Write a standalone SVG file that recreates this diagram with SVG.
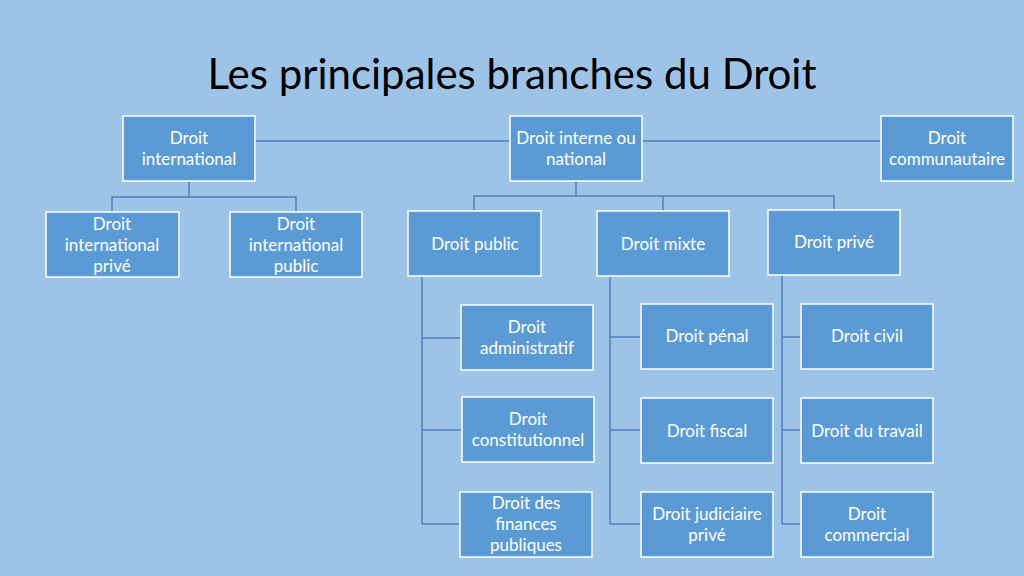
<svg xmlns="http://www.w3.org/2000/svg" width="1024" height="576" viewBox="0 0 1024 576">
<style>
.b{fill:#5b9bd5;stroke:#ffffff;stroke-width:1.5}
.t{font-family:Lato,"Open Sans",sans-serif;font-size:17px;fill:#ffffff;text-anchor:middle}
.c{fill:none;stroke:#4f81bd;stroke-width:1.5}
</style>
<rect width="1024" height="576" fill="#9dc3e6"/>
<text x="512" y="89" font-family="Lato,'Open Sans',sans-serif" font-size="42" text-anchor="middle" fill="#000">Les principales branches du Droit</text>
<g id="connectors" class="c">
<path d="M255 141H510M642 141H881"/>
<path d="M189 181V197M112 212V197H296V212"/>
<path d="M576 181V196M474 211V196H834V210M663 196V211"/>
<path d="M422 276V524M422 338H461M422 430H461M422 524H461"/>
<path d="M610 276V524M610 337H641M610 430H641M610 524H641"/>
<path d="M782 275V524M782 337H801M782 430H801M782 524H801"/>
</g>
<g id="n1"><rect class="b" x="123" y="116" width="132" height="65"/><text class="t" x="189" y="144">Droit</text><text class="t" x="189" y="165">international</text></g>
<g id="n2"><rect class="b" x="510" y="116" width="132" height="65"/><text class="t" x="576" y="144">Droit interne ou</text><text class="t" x="576" y="165">national</text></g>
<g id="n3"><rect class="b" x="881" y="116" width="132" height="65"/><text class="t" x="947" y="144">Droit</text><text class="t" x="947" y="165">communautaire</text></g>
<g id="n4"><rect class="b" x="46" y="212" width="133" height="65"/><text class="t" x="112" y="230">Droit</text><text class="t" x="112" y="251">international</text><text class="t" x="112" y="272">privé</text></g>
<g id="n5"><rect class="b" x="230" y="212" width="132" height="65"/><text class="t" x="296" y="230">Droit</text><text class="t" x="296" y="251">international</text><text class="t" x="296" y="272">public</text></g>
<g id="n6"><rect class="b" x="408" y="211" width="133" height="65"/><text class="t" x="475" y="250">Droit public</text></g>
<g id="n7"><rect class="b" x="597" y="211" width="132" height="65"/><text class="t" x="663" y="250">Droit mixte</text></g>
<g id="n8"><rect class="b" x="768" y="210" width="132" height="65"/><text class="t" x="834" y="248">Droit privé</text></g>
<g id="n9"><rect class="b" x="461" y="305" width="132" height="65"/><text class="t" x="527" y="333">Droit</text><text class="t" x="527" y="354">administratif</text></g>
<g id="n10"><rect class="b" x="462" y="397" width="132" height="65"/><text class="t" x="528" y="425">Droit</text><text class="t" x="528" y="446">constitutionnel</text></g>
<g id="n11"><rect class="b" x="460" y="492" width="132" height="65"/><text class="t" x="526" y="509">Droit des</text><text class="t" x="526" y="530">finances</text><text class="t" x="526" y="551">publiques</text></g>
<g id="n12"><rect class="b" x="641" y="304" width="132" height="65"/><text class="t" x="707" y="342">Droit pénal</text></g>
<g id="n13"><rect class="b" x="641" y="398" width="132" height="65"/><text class="t" x="707" y="437">Droit fiscal</text></g>
<g id="n14"><rect class="b" x="641" y="492" width="132" height="65"/><text class="t" x="707" y="520">Droit judiciaire</text><text class="t" x="707" y="541">privé</text></g>
<g id="n15"><rect class="b" x="801" y="304" width="132" height="65"/><text class="t" x="867" y="342">Droit civil</text></g>
<g id="n16"><rect class="b" x="801" y="398" width="132" height="65"/><text class="t" x="867" y="437">Droit du travail</text></g>
<g id="n17"><rect class="b" x="801" y="492" width="132" height="65"/><text class="t" x="867" y="520">Droit</text><text class="t" x="867" y="541">commercial</text></g>
</svg>
